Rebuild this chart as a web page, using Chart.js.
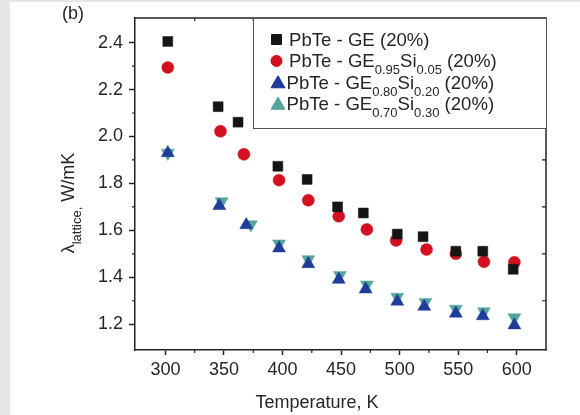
<!DOCTYPE html>
<html>
<head>
<meta charset="utf-8">
<script src="https://cdn.jsdelivr.net/npm/chart.js@4.4.1/dist/chart.umd.min.js"></script>
<style>
  html, body { margin: 0; padding: 0; background: #fff; }
</style>
</head>
<body>
<canvas id="chart" width="580" height="415"></canvas>
<script>
// lattice thermal conductivity vs temperature, PbTe with 20% GE / GE-Si
const seriesLabels = [
    'PbTe - GE (20%)',
    'PbTe - GE_{0.95}Si_{0.05} (20%)',
    'PbTe - GE_{0.80}Si_{0.20} (20%)',
    'PbTe - GE_{0.70}Si_{0.30} (20%)',
];

const geTemps = [302, 345, 362, 396, 421, 447, 469, 498, 520, 548, 571, 597];
const geValues = [2.405, 2.127, 2.061, 1.873, 1.817, 1.700, 1.674, 1.584, 1.573, 1.511, 1.511, 1.434];

const si05Temps = [302, 347, 367, 397, 422, 448, 472, 497, 523, 548, 572, 598];
const si05Values = [2.294, 2.022, 1.924, 1.814, 1.728, 1.660, 1.604, 1.557, 1.518, 1.500, 1.466, 1.464];

const si20Temps = [302, 346, 369, 397, 422, 448, 471, 498, 521, 548, 571, 598];
const si20Values = [1.930, 1.705, 1.623, 1.524, 1.457, 1.390, 1.349, 1.297, 1.275, 1.246, 1.235, 1.196];

const si30Temps = [302, 348, 373, 397, 422, 449, 472, 498, 522, 548, 572, 598];
const si30Values = [1.930, 1.723, 1.625, 1.543, 1.476, 1.409, 1.368, 1.316, 1.294, 1.265, 1.254, 1.228];

const xTickValues = [300, 350, 400, 450, 500, 550, 600];
const xMinorTicks = [325, 375, 425, 475, 525, 575];
const yTickValues = [1.2, 1.4, 1.6, 1.8, 2.0, 2.2, 2.4];
const yMinorTicks = [1.3, 1.5, 1.7, 1.9, 2.1, 2.3];

const FONT = '"Liberation Sans", Arial, sans-serif';
const INK = '#262626';

function toPoints(xs, ys) {
    return xs.map((x, i) => ({ x, y: ys[i] }));
}

// split "GE_{0.95}" style labels into normal / subscript runs
function richParts(text) {
    const parts = [];
    const re = /_\{([^}]*)\}/g;
    let last = 0, m;
    while ((m = re.exec(text))) {
        if (m.index > last) parts.push({ t: text.slice(last, m.index), sub: false });
        parts.push({ t: m[1], sub: true });
        last = re.lastIndex;
    }
    if (last < text.length) parts.push({ t: text.slice(last), sub: false });
    return parts;
}

function drawRich(ctx, text, x, y, size, align) {
    const parts = richParts(text);
    const main = `${size}px ${FONT}`;
    const small = `${Math.round(size * 0.72)}px ${FONT}`;
    let total = 0;
    parts.forEach((p) => {
        ctx.font = p.sub ? small : main;
        p.w = ctx.measureText(p.t).width;
        total += p.w;
    });
    let cx = align === 'center' ? x - total / 2 : x;
    ctx.textAlign = 'left';
    ctx.textBaseline = 'alphabetic';
    parts.forEach((p) => {
        ctx.font = p.sub ? small : main;
        ctx.fillText(p.t, cx, p.sub ? y + size * 0.38 : y);
        cx += p.w;
    });
}

const backdrop = {
    id: 'backdrop',
    beforeDraw(chart) {
        const ctx = chart.ctx;
        ctx.save();
        ctx.fillStyle = '#e6e6e6';
        ctx.fillRect(0, 0, chart.width, chart.height);
        ctx.fillStyle = '#ffffff';
        ctx.fillRect(10, 2, chart.width - 10, chart.height - 2);
        ctx.restore();
    }
};

const frame = {
    id: 'frame',
    afterDatasetsDraw(chart) {
        const { ctx, chartArea: a, scales } = chart;
        ctx.save();
        ctx.strokeStyle = '#222';
        ctx.lineWidth = 1.5;
        ctx.beginPath();
        ctx.moveTo(a.left, a.top);
        ctx.lineTo(a.right, a.top);
        ctx.lineTo(a.right, a.bottom);
        ctx.stroke();

        ctx.lineWidth = 1.2;
        ctx.beginPath();
        for (const v of xMinorTicks) {
            const px = scales.x.getPixelForValue(v);
            ctx.moveTo(px, a.bottom);
            ctx.lineTo(px, a.bottom + 3);
            ctx.moveTo(px, a.top);
            ctx.lineTo(px, a.top + 3);
        }
        for (const v of yMinorTicks) {
            const py = scales.y.getPixelForValue(v);
            ctx.moveTo(a.left, py);
            ctx.lineTo(a.left - 3, py);
            ctx.moveTo(a.right, py);
            ctx.lineTo(a.right - 4, py);
        }
        ctx.stroke();

        // legend box in the upper right corner
        const box = { left: 253, top: a.top, right: a.right, bottom: 128 };
        ctx.fillStyle = '#fff';
        ctx.fillRect(box.left, box.top, box.right - box.left, box.bottom - box.top);
        ctx.strokeStyle = '#555';
        ctx.lineWidth = 1;
        ctx.strokeRect(box.left + 0.5, box.top + 0.5, box.right - box.left, box.bottom - box.top);

        chart.data.datasets.forEach((ds, i) => {
            const base = box.top + 28 + i * 21.4;
            const isTri = ds.pointStyle === 'triangle';
            ctx.fillStyle = ds.backgroundColor;
            ctx.strokeStyle = ds.borderColor;
            ctx.lineWidth = 1;
            Chart.helpers.drawPoint(ctx, {
                pointStyle: ds.pointStyle,
                radius: isTri ? 8 : (ds.pointStyle === 'rect' ? 7 : 5.5),
                rotation: 0,
                borderWidth: 1,
            }, isTri ? 278 : 276.5, base - (isTri ? 5 : 6.5));
            ctx.fill();
            ctx.fillStyle = INK;
            drawRich(ctx, ds.label, isTri ? 286.5 : 289, base, 18.6, 'left');
        });

        // axis titles and panel tag
        ctx.fillStyle = INK;
        ctx.font = `18px ${FONT}`;
        ctx.textAlign = 'center';
        ctx.textBaseline = 'middle';
        ctx.fillText('(b)', 73, 14);
        ctx.fillText('Temperature, K', 317, 403);

        ctx.translate(74, 203);
        ctx.rotate(-Math.PI / 2);
        drawRich(ctx, 'λ_{lattice,} W/mK', 0, 0, 18, 'center');
        ctx.restore();
    }
};

const markers = [
    { style: 'rect', color: '#151515', radius: 7, rotation: 0 },
    { style: 'circle', color: '#d3101f', radius: 6, rotation: 0 },
    { style: 'triangle', color: '#1f3c99', radius: 7.5, rotation: 0 },
    { style: 'triangle', color: '#55a59d', radius: 7.5, rotation: 180 },
];
const seriesData = [
    toPoints(geTemps, geValues),
    toPoints(si05Temps, si05Values),
    toPoints(si20Temps, si20Values),
    toPoints(si30Temps, si30Values),
];

new Chart(document.getElementById('chart'), {
    type: 'scatter',
    data: {
        datasets: seriesData.map((data, i) => ({
            label: seriesLabels[i],
            data,
            pointStyle: markers[i].style,
            pointRadius: markers[i].radius,
            pointRotation: markers[i].rotation,
            backgroundColor: markers[i].color,
            borderColor: markers[i].color,
            borderWidth: 0.5,
        })),
    },
    options: {
        responsive: false,
        animation: false,
        layout: { padding: { left: 70, top: 18, right: 34, bottom: 0 } },
        scales: {
            x: {
                type: 'linear',
                min: 274,
                max: 625,
                afterBuildTicks: (scale) => {
                    scale.ticks = xTickValues.map((value) => ({ value }));
                },
                afterFit: (scale) => { scale.height = 65; },
                ticks: {
                    font: { family: FONT, size: 18 },
                    color: INK,
                    padding: 4,
                    maxRotation: 0,
                    callback: (v) => String(v),
                },
                grid: { drawOnChartArea: false, tickLength: 5, tickColor: '#222', tickWidth: 1.5 },
                border: { color: '#222', width: 1.5 },
            },
            y: {
                min: 1.09,
                max: 2.505,
                afterBuildTicks: (scale) => {
                    scale.ticks = yTickValues.map((value) => ({ value }));
                },
                afterFit: (scale) => { scale.width = 65; },
                ticks: {
                    font: { family: FONT, size: 18 },
                    color: INK,
                    padding: 6,
                    callback: (v) => Number(v).toFixed(1),
                },
                grid: { drawOnChartArea: false, tickLength: 6, tickColor: '#222', tickWidth: 1.5 },
                border: { color: '#222', width: 1.5 },
            },
        },
        plugins: {
            legend: { display: false },
            tooltip: { enabled: false },
        },
    },
    plugins: [backdrop, frame],
});
</script>
</body>
</html>
